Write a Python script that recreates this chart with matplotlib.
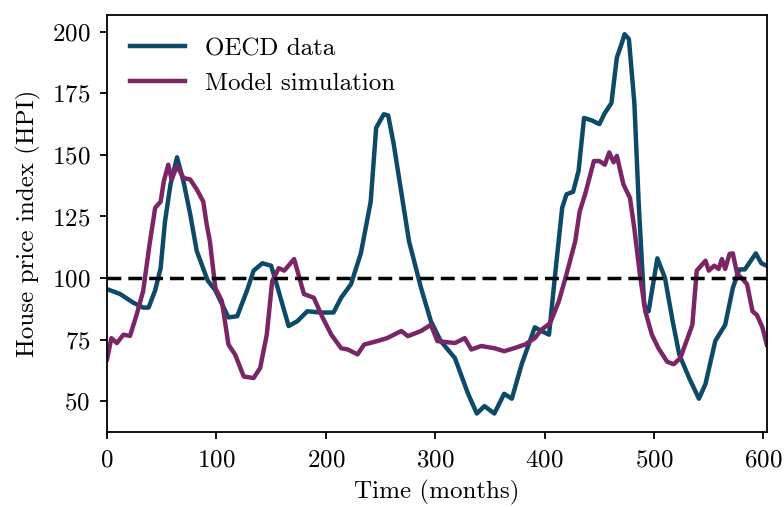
import numpy as np
import matplotlib
matplotlib.use("Agg")
import matplotlib.pyplot as plt

# data ====================================================================
oecd_months = [0, 12, 24, 33, 38, 44, 49, 53, 58, 64, 70, 76, 82, 92, 99, 111, 119,
               128, 134, 142, 150, 156, 166, 174, 183, 195, 207, 214, 223, 232, 241,
               246, 253, 257, 262, 276, 287, 296, 305, 318, 330, 338, 345, 354, 363,
               370, 379, 391, 397, 404, 409, 416, 420, 426, 431, 436, 443, 450, 455,
               461, 466, 471, 473, 477, 482, 486, 491, 495, 503, 510, 517, 523, 532,
               541, 547, 556, 565, 572, 578, 583, 593, 598, 603]
oecd_hpi = [95.5, 93.5, 90, 88, 88, 95, 104, 123, 138, 149, 139, 126, 111, 99, 95, 84,
            84.5, 95, 103, 106, 105, 96, 80.5, 82.5, 86.5, 86, 86, 92, 97.5, 110, 131,
            161, 166.5, 166, 154.5, 115, 96, 82.5, 74.4, 67.5, 53, 45, 48, 45, 53,
            51, 65, 80, 78.5, 77, 99, 128.5, 134, 135, 143.5, 165, 164, 162.5, 167,
            171, 189.5, 196, 199, 197, 171, 130, 89, 86.5, 108, 100, 82.5, 69, 59.5,
            51, 57, 74.5, 81, 96, 103.5, 103.5, 110, 106, 105]

model_months = [0, 4, 9, 15, 21, 27, 33, 39, 44, 49, 52, 56, 59, 64, 70, 76, 82, 88,
                91, 94, 99, 105, 111, 117, 125, 134, 140, 146, 151, 157, 162, 171, 180,
                189, 197, 205, 214, 220, 229, 235, 247, 256, 269, 275, 287, 296, 302,
                318, 327, 333, 342, 354, 363, 372, 382, 391, 397, 405, 413, 420, 428,
                432, 437, 445, 450, 455, 459, 463, 466, 472, 478, 482, 487, 492, 498,
                504, 512, 518, 524, 535, 539, 547, 550, 555, 559, 562, 565, 569, 572,
                576, 580, 585, 590, 594, 599, 603]
model_hpi = [67, 75.6, 73.6, 77, 76.5, 85, 94.7, 114, 128.5, 131, 139.5, 146, 140,
             145.5, 140.6, 140, 136, 131, 122, 115, 96, 90.6, 73, 69, 60, 59.4, 63.5,
             77, 98.8, 104, 103, 107.7, 93.5, 92, 84, 77, 71.5, 71, 69, 73, 74.4,
             75.6, 78.5, 76.4, 78.5, 81, 74.4, 73.6, 75.6, 71, 72.4, 71.5, 70.3, 71.5,
             73, 75.6, 79, 81.7, 90.6, 101.6, 115, 127, 134, 147.5, 147.5, 146, 151,
             147, 149.6, 138, 132.5, 120, 101.6, 86.5, 77, 71.5, 66, 65, 67.5, 81,
             103, 107, 103, 105, 103.7, 107.7, 103.7, 109.8, 110, 101.6, 100, 97.5,
             86.5, 85, 80, 73]

baseline = 100

# style =====================================================================
plt.rcParams['font.family'] = ['cmr10', 'DejaVu Serif']
plt.rcParams['axes.formatter.use_mathtext'] = True
plt.rcParams['mathtext.fontset'] = 'cm'
plt.rcParams['font.size'] = 18

fig = plt.figure(figsize=(7.84, 5.07), dpi=100)
ax = fig.add_axes([0.1365, 0.147, 0.8415, 0.823])

ax.plot(oecd_months, oecd_hpi, color='#0d4a69', lw=3.2, label='OECD data')
ax.plot(model_months, model_hpi, color='#7b2566', lw=3.2, label='Model simulation')
ax.axhline(baseline, color='black', lw=2.5, ls='--', dashes=(4.0, 2.0))

ax.set_xlim(0, 603)
ax.set_xticks([0, 100, 200, 300, 400, 500, 600])
ax.set_yticks([50, 75, 100, 125, 150, 175, 200])
ax.set_xlabel('Time (months)', labelpad=6)
ax.set_ylabel('House price index (HPI)', labelpad=8)

for s in ax.spines.values():
    s.set_linewidth(1.3)
ax.tick_params(direction='out', length=5, width=1.3, labelsize=18, pad=7)

ax.legend(loc='upper left', frameon=False, handlelength=2.2, fontsize=18,
          borderaxespad=0.5, labelspacing=0.5, handletextpad=0.8)

fig.savefig('out.png', dpi=100)
